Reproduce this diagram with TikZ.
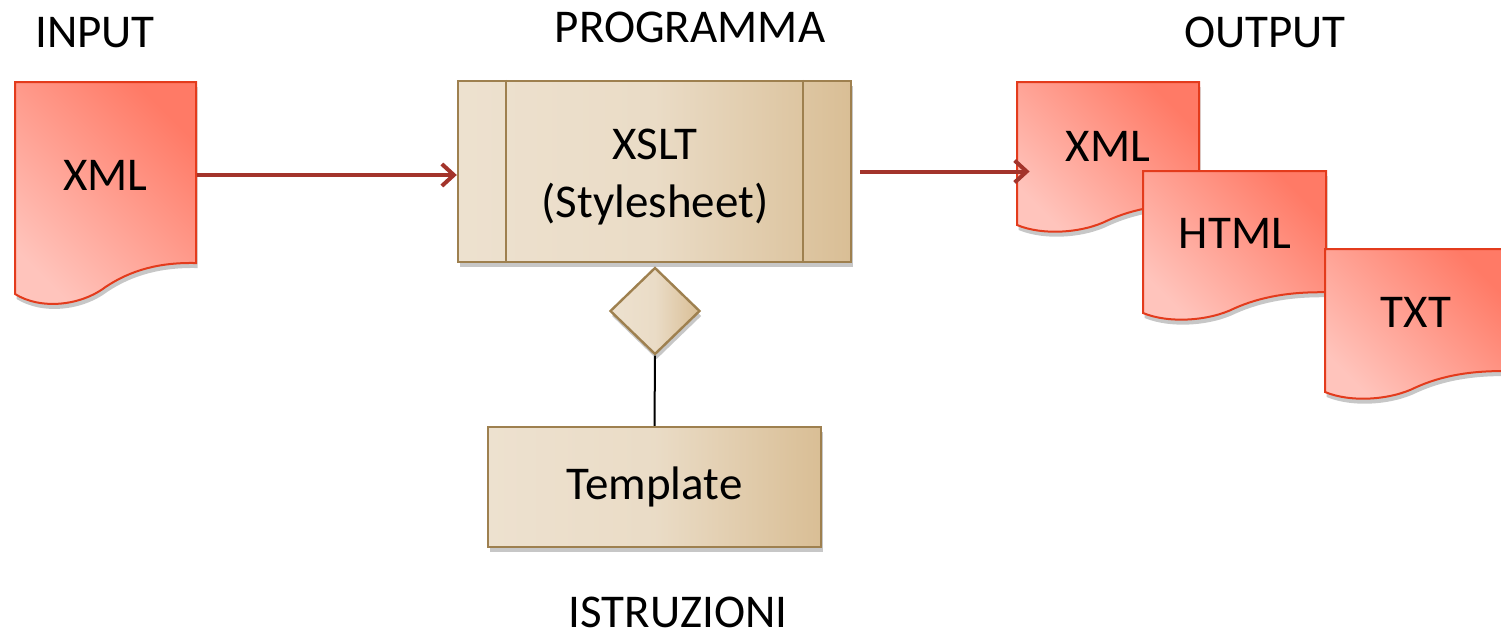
\documentclass[tikz,border=0pt]{standalone}
\usepackage{fontspec}
\setmainfont{Carlito}
\usetikzlibrary{shapes.geometric,shadows,arrows.meta}
\definecolor{docdark}{HTML}{FF7A66}
\definecolor{doclight}{HTML}{FFC4BC}
\definecolor{docline}{HTML}{E33B1C}
\definecolor{beigeL}{HTML}{EDE1CF}
\definecolor{beigeR}{HTML}{D9BE95}
\definecolor{beigeline}{HTML}{9E804F}
\definecolor{arrowred}{HTML}{A3342B}
\tikzset{
  softshadow/.style={drop shadow={opacity=0.22, shadow xshift=0.8pt, shadow yshift=-2.5pt, fill=black}},
  docfill/.style={draw=docline, line width=1pt, top color=docdark, bottom color=doclight, shading angle=-45, softshadow},
  beigebox/.style={draw=beigeline, line width=1.2pt, left color=beigeL, right color=beigeR, middle color=beigeL!85!beigeR, softshadow},
  txt/.style={font=\fontsize{23.5}{29}\selectfont, text=black, inner sep=0pt},
  doctext/.style={txt, minimum width=91pt, minimum height=50pt},
  arr/.style={draw=arrowred, line width=2pt, -{Straight Barb[length=6pt,width=11pt,line width=2pt]}},
  divider/.style={draw=beigeline, line width=1.2pt}
}
% #1 x0, #2 y0, #3 width, #4 left height (pixel units)
\newcommand\mydocshape[4]{%
  \path[docfill] (#1,#2) -- ({#1+#3},#2) -- ({#1+#3},{#2+0.854*#4})
    .. controls ({#1+0.8*#3},{#2+0.85*#4}) and ({#1+0.64*#3},{#2+0.887*#4}) .. ({#1+0.5*#3},{#2+0.967*#4})
    .. controls ({#1+0.36*#3},{#2+1.057*#4}) and ({#1+0.14*#3},{#2+1.075*#4}) .. (#1,{#2+#4}) -- cycle;}
\begin{document}
\begin{tikzpicture}[x=0.5pt,y=-0.5pt]
  \useasboundingbox (0,0) rectangle (1501,637);
  \clip (0,0) rectangle (1501,637);

  % labels
  \node[txt] (lin) at (95,33) {INPUT};
  \node[txt] (lprog) at (690,27) {PROGRAMMA};
  \node[txt] (lout) at (1265,32) {OUTPUT};
  \node[txt] (listr) at (678,612) {ISTRUZIONI};

  % input document
  \mydocshape{15}{82}{181}{212}
  \node[doctext] (in) at (105.5,175) {XML};

  % program box
  \node[beigebox, minimum width=196.5pt, minimum height=90.5pt] (prog) at (654.5,171.5) {};
  \draw[divider] ([xshift=24.5pt]prog.north west) -- ([xshift=24.5pt]prog.south west);
  \draw[divider] ([xshift=-24.5pt]prog.north east) -- ([xshift=-24.5pt]prog.south east);
  \node[txt, align=center] (progtxt) at (655,177) {XSLT\\(Stylesheet)};

  % diamond and template
  \node[diamond, beigebox, inner sep=0pt, minimum width=45pt, minimum height=43.5pt] (dia) at (655,311) {};
  \node[beigebox, txt, minimum width=166.5pt, minimum height=60pt] (tmpl) at (654.5,487) {Template};
  \draw[line width=1pt, black] (dia.south) -- (tmpl.north);

  % output documents
  \mydocshape{1017}{82}{182}{143}
  \node[doctext] (oxml) at (1108,146) {XML};
  \mydocshape{1143}{171}{183}{142}
  \node[doctext] (ohtml) at (1235,233) {HTML};
  \mydocshape{1325}{249}{182}{143}
  \node[doctext] (otxt) at (1416,312) {TXT};

  % arrows
  \draw[arr] (in.east) -- (in.east -| prog.west);
  \draw[arr, shorten <=4pt, shorten >=-6.5pt] (prog.east) -- (prog.east -| oxml.west);
\end{tikzpicture}
\end{document}
